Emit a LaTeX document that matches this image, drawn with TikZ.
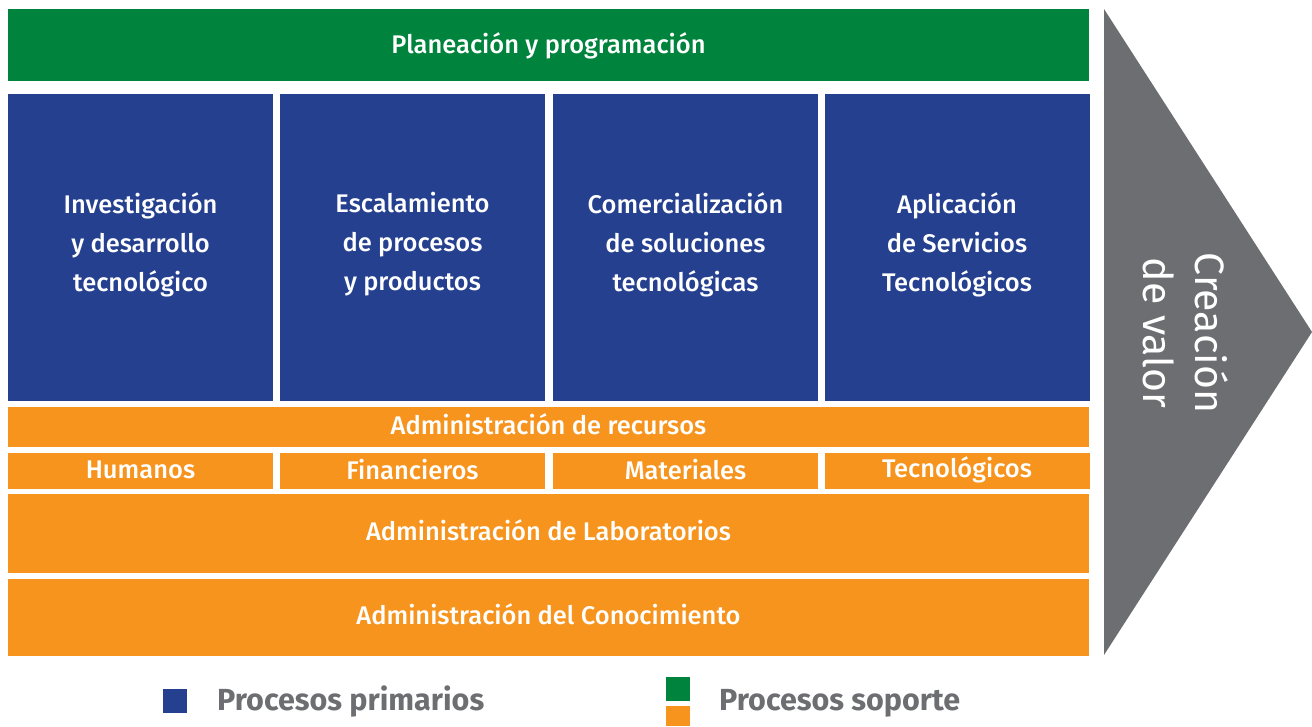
\documentclass[tikz,border=0pt]{standalone}
\usepackage{fontspec}
\setmainfont{Fira Sans}[UprightFont={* Medium}, BoldFont={* Bold}]
\newfontfamily\ligera{Fira Sans}
\usetikzlibrary{positioning}

\definecolor{verde}{HTML}{00843D}
\definecolor{azul}{HTML}{25408F}
\definecolor{naranja}{HTML}{F7941D}
\definecolor{gris}{HTML}{6D6E71}

\tikzset{
  caja/.style={inner sep=0pt, outer sep=0pt},
  texto/.style={inner sep=0pt, text=white, align=center,
    font=\fontsize{25.5}{39}\selectfont},
  primario/.style={caja, fill=azul, minimum width=265pt, minimum height=307pt},
  soporte/.style={caja, fill=naranja},
  leyenda/.style={inner sep=0pt, anchor=base west, text=gris,
    font=\fontsize{30.5}{34}\selectfont\bfseries}
}

\begin{document}
\begin{tikzpicture}[x=1pt, y=-1pt]
\useasboundingbox (0,0) rectangle (1312,726);

% Planeacion (green bar)
\node[caja, fill=verde, minimum width=1081pt, minimum height=72pt] (plan) at (548.5,45) {};
\node[texto] (planT) at ([yshift=-1pt]plan.center) {Planeación y programación};

% Procesos primarios (blue boxes)
\node[primario] (inv) at (140.5,247.5) {};
\node[primario] (esc) at (412.5,247.5) {};
\node[primario] (com) at (685.5,247.5) {};
\node[primario] (apl) at (957,247.5) {};
\node[texto] (invT) at ([yshift=3pt]inv.center) {Investigación\\y desarrollo\\tecnológico};
\node[texto] (escT) at ([yshift=3pt]esc.center) {Escalamiento\\de procesos\\y productos};
\node[texto] (comT) at ([yshift=3pt]com.center) {Comercialización\\de soluciones\\tecnológicas};
\node[texto] (aplT) at ([yshift=3pt]apl.center) {Aplicación\\de Servicios\\Tecnológicos};

% Administracion de recursos
\node[soporte, minimum width=1081pt, minimum height=40pt] (recursos) at (548.5,427) {};
\node[texto] (recursosT) at ([yshift=3pt]recursos.center) {Administración de recursos};

% Recursos por tipo
\foreach \cx/\nombre/\texto in {140.5/hum/Humanos, 412.5/fin/Financieros, 685.5/mat/Materiales, 957/tec/Tecnológicos}
{
    \node[soporte, minimum width=265pt, minimum height=36pt] (\nombre) at (\cx,471) {};
    \node[texto] (\nombre T) at ([yshift=1pt]\nombre.center) {\texto};
}

% Laboratorios y Conocimiento
\node[soporte, minimum width=1081pt, minimum height=79pt] (lab) at (548.5,533.5) {};
\node[texto] (labT) at ([yshift=3pt]lab.center) {Administración de Laboratorios};
\node[soporte, minimum width=1081pt, minimum height=77pt] (con) at (548.5,617) {};
\node[texto] (conT) at ([yshift=3pt]con.center) {Administración del Conocimiento};

% Flecha de creacion de valor
\fill[gris] (1104,9) -- (1312,332) -- (1104,655) -- cycle;
\node[rotate=-90, align=center, text=white, inner sep=0pt,
  font=\fontsize{41}{52}\selectfont\ligera] (valor) at (1186,333) {Creación\\de valor};

% Leyenda
\fill[azul] (163,689) rectangle (187,713);
\node[leyenda] (prim) at (217,710) {Procesos primarios};
\fill[verde] (666,677) rectangle (690,701);
\fill[naranja] (666,706) rectangle (690,726);
\node[leyenda] (sop) at (719,710) {Procesos soporte};

\end{tikzpicture}
\end{document}
